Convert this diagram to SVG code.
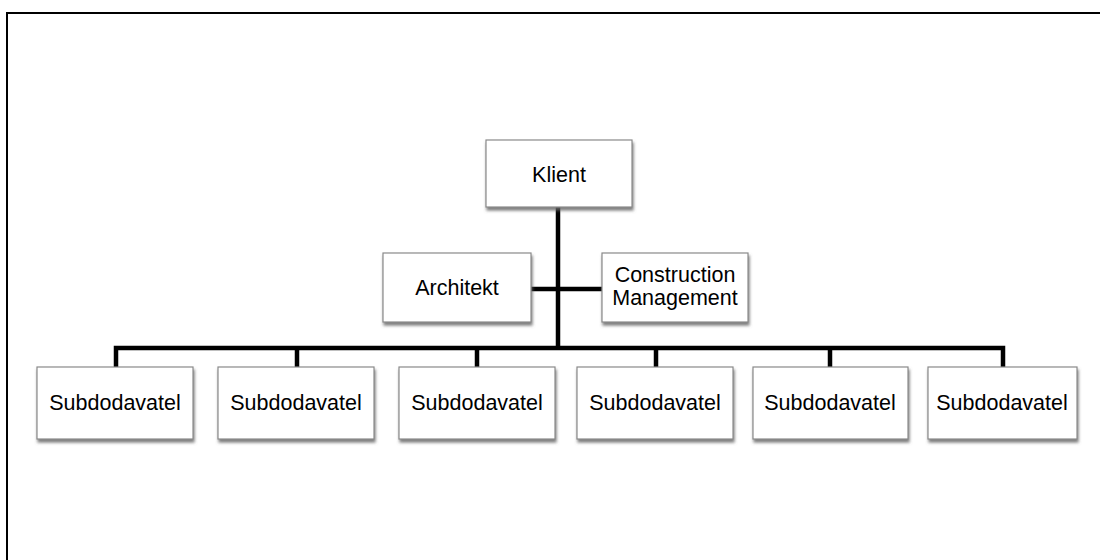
<svg xmlns="http://www.w3.org/2000/svg" width="1100" height="560" viewBox="0 0 1100 560">
  <defs>
    <filter id="shadow" x="-10%" y="-10%" width="125%" height="130%">
      <feDropShadow dx="1" dy="3" stdDeviation="1.5" flood-color="#666" flood-opacity="0.85"/>
    </filter>
  </defs>
  <style>
    .box { fill: #ffffff; stroke: #8a8a8a; stroke-width: 1.2; filter: url(#shadow); }
    .label { font-family: "Liberation Sans", Arial, sans-serif; font-size: 21.5px; fill: #000; text-anchor: middle; }
    .link { fill: none; stroke: #000; stroke-width: 4.5; }
  </style>

  <!-- page frame -->
  <rect x="7" y="13" width="1110" height="570" fill="#fff" stroke="#000" stroke-width="2"/>

  <!-- connectors -->
  <g id="connectors">
    <line class="link" x1="558" y1="207" x2="558" y2="348"/>
    <line class="link" x1="530" y1="289" x2="603" y2="289"/>
    <path class="link" d="M116 367 V348 H1003 V367"/>
    <line class="link" x1="297" y1="348" x2="297" y2="367"/>
    <line class="link" x1="477" y1="348" x2="477" y2="367"/>
    <line class="link" x1="656" y1="348" x2="656" y2="367"/>
    <line class="link" x1="830" y1="348" x2="830" y2="367"/>
  </g>

  <g id="klient">
    <rect class="box" x="486" y="140" width="146" height="67"/>
    <text class="label" x="559" y="182">Klient</text>
  </g>

  <g id="architekt">
    <rect class="box" x="383" y="253" width="148" height="69"/>
    <text class="label" x="457" y="295">Architekt</text>
  </g>

  <g id="construction-management">
    <rect class="box" x="602" y="253" width="146" height="69"/>
    <text class="label" x="675" y="282">Construction</text>
    <text class="label" x="675" y="305">Management</text>
  </g>

  <g id="sub1">
    <rect class="box" x="37" y="367" width="156" height="72"/>
    <text class="label" x="115" y="410">Subdodavatel</text>
  </g>
  <g id="sub2">
    <rect class="box" x="218" y="367" width="156" height="72"/>
    <text class="label" x="296" y="410">Subdodavatel</text>
  </g>
  <g id="sub3">
    <rect class="box" x="399" y="367" width="156" height="72"/>
    <text class="label" x="477" y="410">Subdodavatel</text>
  </g>
  <g id="sub4">
    <rect class="box" x="577" y="367" width="156" height="72"/>
    <text class="label" x="655" y="410">Subdodavatel</text>
  </g>
  <g id="sub5">
    <rect class="box" x="753" y="367" width="155" height="72"/>
    <text class="label" x="830" y="410">Subdodavatel</text>
  </g>
  <g id="sub6">
    <rect class="box" x="928" y="367" width="149" height="72"/>
    <text class="label" x="1002" y="410">Subdodavatel</text>
  </g>
</svg>
